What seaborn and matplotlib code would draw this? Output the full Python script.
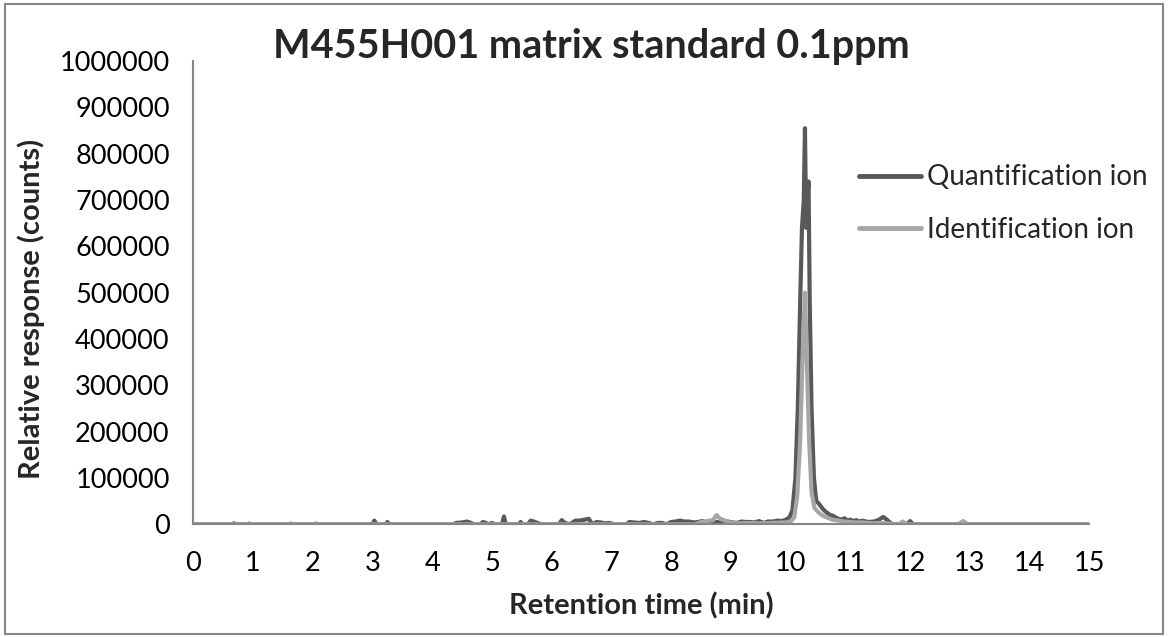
import numpy as np
import pandas as pd
import matplotlib
matplotlib.use("Agg")
import matplotlib.pyplot as plt
import seaborn as sns
from matplotlib.patches import Rectangle

# ---- data ----
quant_time = [0.0, 0.65, 0.68, 0.72, 0.9, 0.93, 0.97, 1.6, 1.63, 1.66, 2.02, 2.05, 2.08,
              3.0, 3.03, 3.07, 3.22, 3.25, 3.28, 4.35, 4.4, 4.5, 4.58, 4.65, 4.7, 4.8, 4.85,
              4.9, 4.95, 5.0, 5.05, 5.17, 5.2, 5.23, 5.45, 5.48, 5.51, 5.6, 5.65, 5.72, 5.78,
              5.85, 6.12, 6.17, 6.22, 6.3, 6.4, 6.47, 6.55, 6.62, 6.68, 6.75, 6.82, 6.9, 6.96,
              7.05, 7.25, 7.3, 7.38, 7.46, 7.55, 7.62, 7.7, 7.78, 7.85, 7.92, 8.0, 8.07, 8.15,
              8.22, 8.3, 8.38, 8.45, 8.52, 8.6, 8.7, 8.78, 8.86, 8.95, 9.02, 9.1, 9.18, 9.25,
              9.32, 9.4, 9.47, 9.55, 9.62, 9.7, 9.78, 9.85, 9.92, 9.98, 10.03, 10.08, 10.12,
              10.16, 10.19, 10.22, 10.24, 10.26, 10.28, 10.30, 10.32, 10.35, 10.39, 10.43,
              10.47, 10.5, 10.54, 10.58, 10.62, 10.66, 10.7, 10.75, 10.8, 10.85, 10.9, 10.95,
              11.0, 11.05, 11.1, 11.15, 11.2, 11.3, 11.4, 11.48, 11.55, 11.62, 11.7, 11.95,
              12.0, 12.05, 15.0]
quant_resp = [0, 0, 2000, 0, 0, 1500, 0, 0, 1500, 0, 0, 1500, 0,
              0, 8000, 0, 0, 5000, 0, 0, 3000, 4000, 6000, 3000, 0, 0, 5000,
              3000, 0, 3000, 0, 0, 17000, 0, 0, 5000, 0, 0, 8000, 5000, 2000,
              0, 0, 9000, 3000, 0, 8000, 8000, 10000, 12000, 0, 5000, 4000, 2000, 3000,
              0, 0, 5000, 4000, 3000, 5000, 3000, 0, 3000, 3000, 0, 5000, 6000, 8000,
              6000, 6000, 4000, 5000, 7000, 3000, 4000, 5000, 3000, 6000, 4000, 3000, 6000, 5000,
              5000, 4000, 7000, 3000, 6000, 6000, 8000, 7000, 10000, 15000, 30000, 100000, 250000,
              480000, 640000, 700000, 855000, 640000, 700000, 740000, 480000, 250000, 100000, 50000,
              45000, 40000, 33000, 28000, 24000, 20000, 19000, 15000, 12000, 10000, 13000, 8000,
              10000, 7000, 9000, 6000, 8000, 5000, 6000, 10000, 16000, 9000, 0, 0,
              7000, 0, 0]

ident_time = [0.0, 8.4, 8.5, 8.6, 8.7, 8.76, 8.82, 8.9, 9.0, 9.1, 9.3, 9.5, 9.7, 9.9, 10.0,
              10.06, 10.11, 10.16, 10.2, 10.24, 10.27, 10.31, 10.35, 10.4, 10.45, 10.5, 10.55,
              10.6, 10.7, 10.8, 10.9, 11.0, 11.1, 11.2, 11.3, 11.4, 11.5, 11.6, 11.8, 11.88,
              11.95, 12.8, 12.89, 12.97, 15.0]
ident_resp = [0, 0, 5000, 7000, 9000, 20000, 12000, 8000, 3000, 2000, 3000, 2000, 3000, 4000, 6000,
              15000, 60000, 180000, 360000, 500000, 360000, 180000, 70000, 35000, 28000, 22000, 18000,
              15000, 10000, 8000, 6000, 5000, 4000, 4000, 3000, 2000, 3000, 2000, 0, 6000,
              0, 0, 7000, 0, 0]

series_names = ["Quantification ion", "Identification ion"]
title = "M455H001 matrix standard 0.1ppm"
xlabel = "Retention time (min)"
ylabel = "Relative response (counts)"
x_ticks = list(range(0, 16))
y_ticks = list(range(0, 1000001, 100000))

df = pd.concat([
    pd.DataFrame({"time": quant_time, "resp": quant_resp, "ion": series_names[0]}),
    pd.DataFrame({"time": ident_time, "resp": ident_resp, "ion": series_names[1]}),
], ignore_index=True)

sns.set_theme(style="white")
plt.rcParams["font.family"] = ["Lato", "DejaVu Sans"]

fig = plt.figure(figsize=(11.68, 6.37), dpi=100)
ax = fig.add_axes([0.1655, 0.1769, 0.9326 - 0.1655, 0.9042 - 0.1769])

palette = {series_names[0]: "#595959", series_names[1]: "#a6a6a6"}
sns.lineplot(data=df, x="time", y="resp", hue="ion", palette=palette, ax=ax,
             linewidth=3, sort=False, estimator=None, legend=True)

ax.set_xlim(0, 15)
ax.set_ylim(0, 1000000)
ax.set_xticks(x_ticks)
ax.set_yticks(y_ticks)
ax.set_xticklabels([str(v) for v in x_ticks], fontsize=19.5)
ax.set_yticklabels([str(v) for v in y_ticks], fontsize=19.5)

for s in ["top", "right"]:
    ax.spines[s].set_visible(False)
for s in ["left", "bottom"]:
    ax.spines[s].set_color("#868686")
    ax.spines[s].set_linewidth(1.5)
ax.tick_params(axis="both", which="major", direction="out", color="#868686",
               width=1.5, length=7, labelcolor="black")
ax.tick_params(axis="x", pad=12)
ax.tick_params(axis="y", pad=10)

ax.set_xlabel(xlabel, fontsize=21, fontweight="bold", labelpad=12)
ax.set_ylabel(ylabel, fontsize=21, fontweight="bold")
ax.yaxis.set_label_coords(-0.165, 0.464)
fig.text(0.506, 0.927, title, ha="center", va="center", fontsize=28.5, fontweight="bold")

leg = ax.legend(loc="upper left", bbox_to_anchor=(0.715, 0.831), frameon=False,
                fontsize=20, handlelength=2.25, handletextpad=0.2, labelspacing=0.95)
for line in leg.get_lines():
    line.set_linewidth(3.5)

fig.patches.append(Rectangle((0.004, 0.004), 0.992, 0.99, transform=fig.transFigure,
                             fill=False, edgecolor="#868686", linewidth=1.5))

fig.savefig("out.png", dpi=100)
